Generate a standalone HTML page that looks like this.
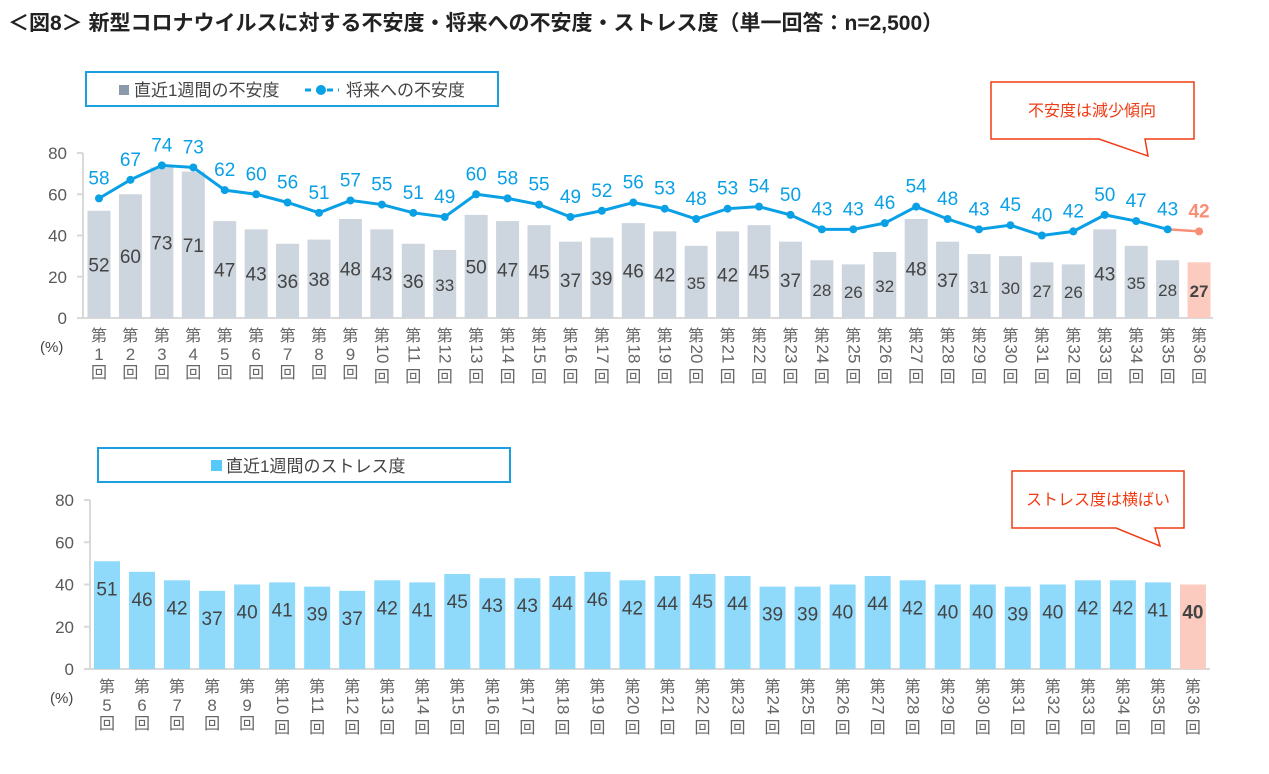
<!DOCTYPE html>
<html><head><meta charset="utf-8">
<style>
body{margin:0;width:1269px;height:769px;background:#fff;overflow:hidden;font-family:"Liberation Sans","Noto Sans CJK JP",sans-serif;}
svg text{font-family:"Liberation Sans","Noto Sans CJK JP",sans-serif;}
</style></head>
<body>
<svg id="c" width="1269" height="769">
<text x="8" y="30" font-size="21" font-weight="bold" fill="#222">＜図8＞ 新型コロナウイルスに対する不安度・将来への不安度・ストレス度（単一回答：n=2,500）</text>
<g>
<rect x="86" y="72" width="412" height="34" fill="#fff" stroke="#1a9fe0" stroke-width="2"/>
<rect x="119" y="85" width="10" height="10" fill="#8a9aab"/>
<text x="134" y="96" font-size="17" fill="#444">直近1週間の不安度</text>
<line x1="305" y1="90" x2="339" y2="90" stroke="#0aa0e6" stroke-width="3" stroke-dasharray="6,5"/>
<circle cx="321" cy="90" r="5" fill="#0aa0e6"/>
<text x="346" y="96" font-size="17" fill="#444">将来への不安度</text>
</g>
<g>
<path d="M991,82 H1194 V139 H1145 L1148,156 L1099,139 H991 Z" fill="#fff" stroke="#f03c14" stroke-width="1.5"/>
<text x="1092" y="116" font-size="16" fill="#f03c14" text-anchor="middle">不安度は減少傾向</text>
</g>
<g>
<rect x="98" y="448" width="412" height="34" fill="#fff" stroke="#1a9fe0" stroke-width="2"/>
<rect x="211" y="460" width="11" height="11" fill="#56c8fa"/>
<text x="226" y="472" font-size="17" fill="#444">直近1週間のストレス度</text>
</g>
<g>
<path d="M1012,471 H1184 V528 H1155 L1160,546 L1116,528 H1012 Z" fill="#fff" stroke="#f03c14" stroke-width="1.5"/>
<text x="1098" y="505" font-size="16" fill="#f03c14" text-anchor="middle">ストレス度は横ばい</text>
</g>
<g id="top"></g>
<g id="bot"></g>
</svg>
<script>
const topRounds=[1,2,3,4,5,6,7,8,9,10,11,12,13,14,15,16,17,18,19,20,21,22,23,24,25,26,27,28,29,30,31,32,33,34,35,36];
const anxietyWeek=[52,60,73,71,47,43,36,38,48,43,36,33,50,47,45,37,39,46,42,35,42,45,37,28,26,32,48,37,31,30,27,26,43,35,28,27];
const anxietyFuture=[58,67,74,73,62,60,56,51,57,55,51,49,60,58,55,49,52,56,53,48,53,54,50,43,43,46,54,48,43,45,40,42,50,47,43,42];
const botRounds=[5,6,7,8,9,10,11,12,13,14,15,16,17,18,19,20,21,22,23,24,25,26,27,28,29,30,31,32,33,34,35,36];
const stressWeek=[51,46,42,37,40,41,39,37,42,41,45,43,43,44,46,42,44,45,44,39,39,40,44,42,40,40,39,40,42,42,41,40];
const yTicks=[0,20,40,60,80];
const NS="http://www.w3.org/2000/svg";
function mk(p,tag,a,txt){const e=document.createElementNS(NS,tag);for(const k in a)e.setAttribute(k,a[k]);if(txt!==undefined)e.textContent=txt;p.appendChild(e);return e;}
function axisY(g,x0,y0,y80,right){
  const y=v=>y0-(v/80)*(y0-y80);
  const ax=mk(g,'line',{x1:x0,y1:y80,x2:x0,y2:y0,stroke:'#d9d9d9','stroke-width':2});
  
  
  yTicks.forEach(t=>{
    mk(g,'line',{x1:x0-6,y1:y(t),x2:x0,y2:y(t),stroke:'#d9d9d9','stroke-width':2});
    const tl=mk(g,'text',{x:x0-16,y:y(t)+6,'font-size':17,fill:'#595959','text-anchor':'end'},t);
    
    
  });
  const xa=mk(g,'line',{x1:x0-6,y1:y0,x2:right,y2:y0,stroke:'#d9d9d9','stroke-width':2});
  
  
  return y;
}
function xLabel(g,cx,ytop,n){
  const lab=mk(g,'g',{});
  
  
  mk(lab,'text',{x:cx,y:ytop+15,'font-size':16,fill:'#666','text-anchor':'middle'},'第');
  const s=String(n);
  if(s.length==1){mk(lab,'text',{x:cx,y:ytop+34,'font-size':17,fill:'#666','text-anchor':'middle'},s);}
  else{mk(lab,'text',{x:0,y:0,'font-size':17,fill:'#666','text-anchor':'middle',transform:`translate(${cx-5},${ytop+28}) rotate(90)`},s);}
  mk(lab,'text',{x:cx,y:ytop+(s.length==1?52:56),'font-size':16,fill:'#666','text-anchor':'middle'},'回');
}
// top chart
(function(){
  const g=document.getElementById('top');
  const x0=83,y0=318,y80=153,x1=99,step=31.43,bw=23;
  const y=axisY(g,x0,y0,y80,1213);
  const cx=i=>x1+i*step;
  const n=topRounds.length;
  anxietyWeek.forEach((v,i)=>{
    const last=i==n-1;
    const b=mk(g,'rect',{x:cx(i)-bw/2,y:y(v),width:bw,height:y0-y(v),fill:last?'#fccbc0':'#cdd5de'});
    
    
    const t=mk(g,'text',{x:cx(i),y:(y(v)+y0)/2+7,'font-size':v<36?17:19,fill:'#444','text-anchor':'middle','font-weight':last?'bold':'normal'},v);
    
    
    xLabel(g,cx(i),y0+8,topRounds[i]);
  });
  let d='';
  for(let i=0;i<n-1;i++)d+=(i?'L':'M')+cx(i)+','+y(anxietyFuture[i]);
  const ln=mk(g,'path',{d:d,fill:'none',stroke:'#0aa0e6','stroke-width':3});
  
  
  const ln2=mk(g,'line',{x1:cx(n-2),y1:y(anxietyFuture[n-2]),x2:cx(n-1),y2:y(anxietyFuture[n-1]),stroke:'#f98e76','stroke-width':2.5});
  
  
  anxietyFuture.forEach((v,i)=>{
    const last=i==n-1;
    const p=mk(g,'circle',{cx:cx(i),cy:y(v),r:4,fill:last?'#f98e76':'#0aa0e6'});
    
    
    const t=mk(g,'text',{x:cx(i),y:y(v)-14,'font-size':19,fill:last?'#f98e76':'#0aa0e6','text-anchor':'middle','font-weight':last?'bold':'normal'},v);
    
    
  });
  const u=mk(g,'text',{x:40,y:y0+34,'font-size':15,fill:'#444'},'(%)');
  
  
})();
// bottom chart
(function(){
  const g=document.getElementById('bot');
  const x0=90,y0=669,y80=500,x1=107,step=35.03,bw=26;
  const y=axisY(g,x0,y0,y80,1210);
  const cx=i=>x1+i*step;
  const n=botRounds.length;
  stressWeek.forEach((v,i)=>{
    const last=i==n-1;
    const b=mk(g,'rect',{x:cx(i)-bw/2,y:y(v),width:bw,height:y0-y(v),fill:last?'#fccbc0':'#8fd9fb'});
    
    
    const t=mk(g,'text',{x:cx(i),y:y(v)+34,'font-size':19,fill:'#444','text-anchor':'middle','font-weight':last?'bold':'normal'},v);
    
    
    xLabel(g,cx(i),y0+8,botRounds[i]);
  });
  const u=mk(g,'text',{x:50,y:y0+34,'font-size':15,fill:'#444'},'(%)');
  
  
})();
</script>
</body></html>
